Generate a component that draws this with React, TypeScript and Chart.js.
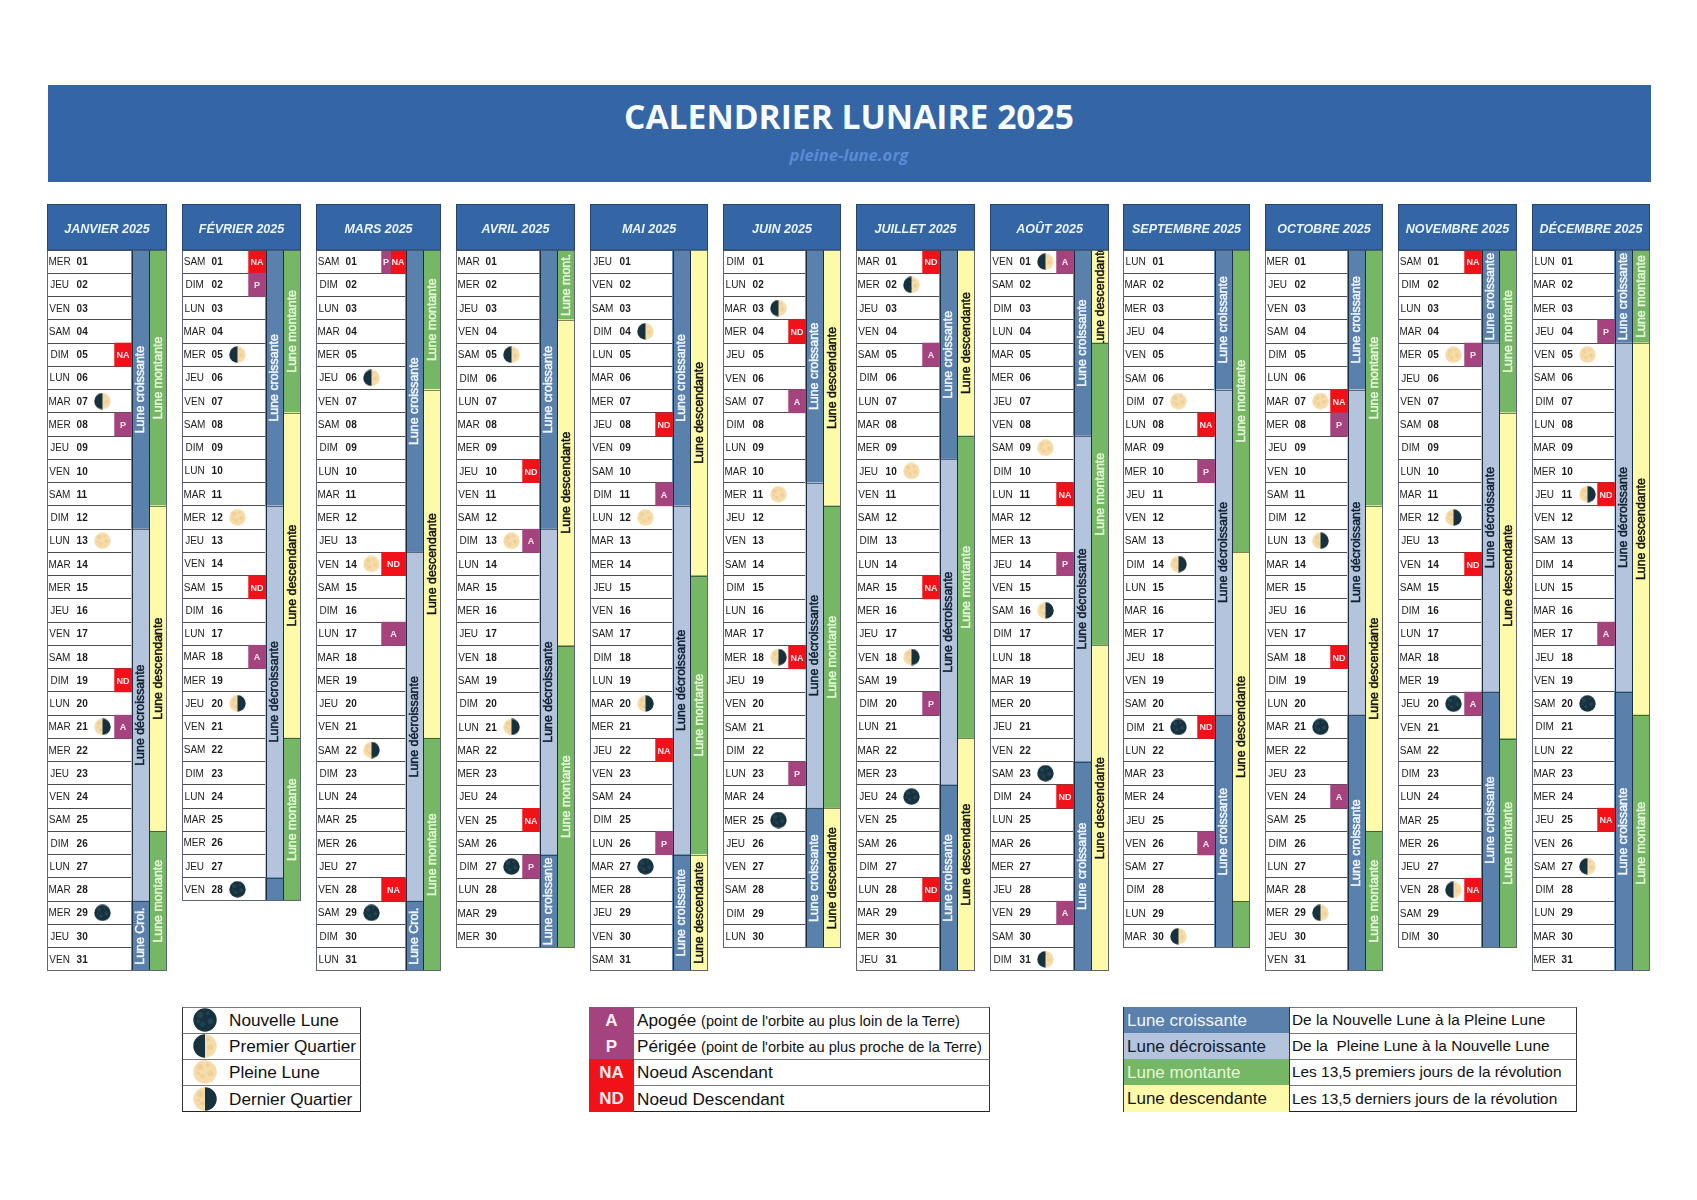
import React, { useEffect, useRef } from "react";
import { Chart, registerables } from "chart.js";

Chart.register(...registerables);

// calendar data
const monthTitles = ["JANVIER 2025", "FÉVRIER 2025", "MARS 2025", "AVRIL 2025", "MAI 2025", "JUIN 2025", "JUILLET 2025", "AOÛT 2025", "SEPTEMBRE 2025", "OCTOBRE 2025", "NOVEMBRE 2025", "DÉCEMBRE 2025"];
const monthLengths = [31, 28, 31, 30, 31, 30, 31, 31, 30, 31, 30, 31];
const weekdays = ["DIM", "LUN", "MAR", "MER", "JEU", "VEN", "SAM"];
const monthFirstWeekday = [3, 6, 6, 2, 4, 0, 2, 5, 1, 3, 6, 1];

// C = croissante, D = décroissante : [phase, nombre de jours]
const phaseRuns: [string, number][][] = [
  [["C", 12], ["D", 16], ["C", 3]],
  [["C", 11], ["D", 16], ["C", 1]],
  [["C", 13], ["D", 15], ["C", 3]],
  [["C", 12], ["D", 14], ["C", 4]],
  [["C", 11], ["D", 15], ["C", 5]],
  [["C", 10], ["D", 14], ["C", 6]],
  [["C", 9], ["D", 14], ["C", 8]],
  [["C", 8], ["D", 14], ["C", 9]],
  [["C", 6], ["D", 14], ["C", 10]],
  [["C", 6], ["D", 14], ["C", 11]],
  [["C", 4], ["D", 15], ["C", 11]],
  [["C", 4], ["D", 15], ["C", 12]],
];

// M = montante, S = descendante
const revolutionRuns: [string, number][][] = [
  [["M", 11], ["S", 14], ["M", 6]],
  [["M", 7], ["S", 14], ["M", 7]],
  [["M", 6], ["S", 15], ["M", 10]],
  [["M", 3], ["S", 14], ["M", 13]],
  [["S", 14], ["M", 12], ["S", 5]],
  [["S", 11], ["M", 13], ["S", 6]],
  [["S", 8], ["M", 13], ["S", 10]],
  [["S", 4], ["M", 13], ["S", 14]],
  [["M", 13], ["S", 15], ["M", 2]],
  [["M", 11], ["S", 14], ["M", 6]],
  [["M", 7], ["S", 14], ["M", 9]],
  [["M", 4], ["S", 16], ["M", 11]],
];

// NL, PQ, PL, DQ
const moonDays: [number, string][][] = [
  [[7, "PQ"], [13, "PL"], [21, "DQ"], [29, "NL"]],
  [[5, "PQ"], [12, "PL"], [20, "DQ"], [28, "NL"]],
  [[6, "PQ"], [14, "PL"], [22, "DQ"], [29, "NL"]],
  [[5, "PQ"], [13, "PL"], [21, "DQ"], [27, "NL"]],
  [[4, "PQ"], [12, "PL"], [20, "DQ"], [27, "NL"]],
  [[3, "PQ"], [11, "PL"], [18, "DQ"], [25, "NL"]],
  [[2, "PQ"], [10, "PL"], [18, "DQ"], [24, "NL"]],
  [[1, "PQ"], [9, "PL"], [16, "DQ"], [23, "NL"], [31, "PQ"]],
  [[7, "PL"], [14, "DQ"], [21, "NL"], [30, "PQ"]],
  [[7, "PL"], [13, "DQ"], [21, "NL"], [29, "PQ"]],
  [[5, "PL"], [12, "DQ"], [20, "NL"], [28, "PQ"]],
  [[5, "PL"], [11, "DQ"], [20, "NL"], [27, "PQ"]],
];

const orbitDays: [number, string][][] = [
  [[5, "NA"], [8, "P"], [19, "ND"], [21, "A"]],
  [[1, "NA"], [2, "P"], [15, "ND"], [18, "A"]],
  [[1, "P"], [1, "NA"], [14, "ND"], [17, "A"], [28, "NA"]],
  [[10, "ND"], [13, "A"], [25, "NA"], [27, "P"]],
  [[8, "ND"], [11, "A"], [22, "NA"], [26, "P"]],
  [[4, "ND"], [7, "A"], [18, "NA"], [23, "P"]],
  [[1, "ND"], [5, "A"], [15, "NA"], [20, "P"], [28, "ND"]],
  [[1, "A"], [11, "NA"], [14, "P"], [24, "ND"], [29, "A"]],
  [[8, "NA"], [10, "P"], [21, "ND"], [26, "A"]],
  [[7, "NA"], [8, "P"], [18, "ND"], [24, "A"]],
  [[1, "NA"], [5, "P"], [14, "ND"], [20, "A"], [28, "NA"]],
  [[4, "P"], [11, "ND"], [17, "A"], [25, "NA"]],
];

const runLabels: Record<string, string> = { C: "Lune croissante", D: "Lune décroissante", M: "Lune montante", S: "Lune descendante" };
const shortRunLabels: Record<string, string> = { C: "Lune Croi.", D: "Lune Décr.", M: "Lune mont.", S: "Lune desc." };

// page layout
const columnLefts = [47, 182, 316, 456, 590, 723, 856, 990, 1123, 1265, 1398, 1532];
const columnRights = [167, 301, 441, 575, 708, 841, 975, 1109, 1250, 1383, 1517, 1650];
const COLUMNS_TOP = 204;
const HEADER_H = 46;
const ROW_H = 23.25;
const BAND_W = 17.7;
const MOON_X = 55.5;

const FONT = '"Liberation Sans", Arial, sans-serif';
const BLUE = "#3465a4";
const runFills: Record<string, string> = { C: "#5a80ac", D: "#b3c4dc", M: "#75b765", S: "#fdfba9" };
const runInks: Record<string, string> = { C: "#f2f6fb", D: "#10202f", M: "#e6f6d8", S: "#141414" };
const orbitFills: Record<string, string> = { A: "#a4437e", P: "#a4437e", NA: "#f01218", ND: "#f01218" };

const moonCache: Record<string, HTMLCanvasElement> = {};

function moonCanvas(kind: string, size: number) {
  const key = kind + size;
  if (moonCache[key]) return moonCache[key];
  const cv = document.createElement("canvas");
  cv.width = size;
  cv.height = size;
  const ctx = cv.getContext("2d")!;
  const r = size / 2;
  const dark = "#17323f";
  const cream = "#f7dca9";
  ctx.save();
  ctx.beginPath();
  ctx.arc(r, r, r - 0.3, 0, Math.PI * 2);
  ctx.clip();
  ctx.fillStyle = kind === "NL" ? dark : cream;
  ctx.fillRect(0, 0, size, size);
  const spots = [[0.3, 0.3, 0.13], [0.62, 0.22, 0.08], [0.72, 0.55, 0.12], [0.4, 0.68, 0.1], [0.22, 0.55, 0.07]];
  spots.forEach(([sx, sy, sr]) => {
    ctx.fillStyle = kind === "NL" ? "#224352" : "#eed09a";
    ctx.beginPath();
    ctx.arc(sx * size, sy * size, sr * size, 0, Math.PI * 2);
    ctx.fill();
  });
  if (kind === "PQ" || kind === "DQ") {
    ctx.fillStyle = dark;
    ctx.fillRect(kind === "PQ" ? 0 : r, 0, r, size);
  }
  ctx.restore();
  moonCache[key] = cv;
  return cv;
}

// rows of a run list -> kind of each day
function expandRuns(runs: [string, number][]) {
  const out: string[] = [];
  runs.forEach(([kind, n]) => {
    for (let i = 0; i < n; i++) out.push(kind);
  });
  return out;
}

function dayLabel(d: number) {
  return String(d).padStart(2, "0");
}

function MonthChart({ month }: { month: number }) {
  const ref = useRef<HTMLCanvasElement>(null);
  const days = monthLengths[month];
  const width = columnRights[month] - columnLefts[month];
  const height = HEADER_H + Math.round(days * ROW_H);

  useEffect(() => {
    if (!ref.current) return;
    const labels = Array.from({ length: days }, (_, i) => dayLabel(i + 1));
    const bandB = width - BAND_W;
    const bandA = bandB - BAND_W;
    const orbitW = month === 2 ? 24 : 17;

    const phases = expandRuns(phaseRuns[month]);
    const revolutions = expandRuns(revolutionRuns[month]);

    // one or two orbit boxes per day, the second lane is only for P + NA on the same day
    const orbits = orbitDays[month];
    const laneA: ([number, number] | null)[] = labels.map(() => null);
    const laneB: ([number, number] | null)[] = labels.map(() => null);
    const fillA: string[] = labels.map(() => "transparent");
    const fillB: string[] = labels.map(() => "transparent");
    const orbitText: { day: string; text: string; x: number }[] = [];
    orbits.forEach(([d, kind]) => {
      const same = orbits.filter((o) => o[0] === d);
      const i = d - 1;
      if (same.length === 2) {
        if (same[0][1] === kind) {
          laneA[i] = [bandA - orbitW, bandA - 15];
          fillA[i] = orbitFills[kind];
          orbitText.push({ day: labels[i], text: kind, x: bandA - orbitW + 4.5 });
        } else {
          laneB[i] = [bandA - 15, bandA];
          fillB[i] = orbitFills[kind];
          orbitText.push({ day: labels[i], text: kind, x: bandA - 7.5 });
        }
      } else {
        laneA[i] = [bandA - orbitW, bandA];
        fillA[i] = orbitFills[kind];
        orbitText.push({ day: labels[i], text: kind, x: bandA - orbitW / 2 });
      }
    });

    const bar = { type: "bar", grouped: false, barPercentage: 1, categoryPercentage: 1, borderWidth: 0 };

    const calendarPlugin = {
      id: "calendarCells",
      beforeDraw(chart: any) {
        const { ctx, chartArea } = chart;
        ctx.save();
        ctx.fillStyle = BLUE;
        ctx.fillRect(0, 0, chart.width, chartArea.top);
        ctx.restore();
      },
      afterDatasetsDraw(chart: any) {
        const { ctx, chartArea } = chart;
        const x = chart.scales.x;
        const y = chart.scales.y;
        const rowH = y.getPixelForValue(1) - y.getPixelForValue(0);
        ctx.save();
        ctx.textBaseline = "middle";

        // weekday + date
        labels.forEach((lab, i) => {
          const py = y.getPixelForValue(i) + 0.8;
          ctx.fillStyle = "#1c1c1c";
          ctx.font = `10px ${FONT}`;
          ctx.textAlign = "center";
          ctx.fillText(weekdays[(monthFirstWeekday[month] + i) % 7], x.getPixelForValue(12.6), py);
          ctx.font = `bold 10px ${FONT}`;
          ctx.textAlign = "left";
          ctx.fillText(lab, x.getPixelForValue(29.6), py);
        });

        // orbit codes
        ctx.textAlign = "center";
        ctx.font = `bold 9px ${FONT}`;
        ctx.fillStyle = "#fbe6ee";
        orbitText.forEach((t) => {
          ctx.fillText(t.text, x.getPixelForValue(t.x), y.getPixelForValue(t.day) + 1);
        });

        // vertical labels of the two bands
        const drawRuns = (runs: [string, number][], from: number) => {
          let start = 0;
          runs.forEach(([kind, n]) => {
            const top = y.getPixelForValue(start) - rowH / 2;
            const h = n * rowH;
            const left = x.getPixelForValue(from);
            const right = x.getPixelForValue(from + BAND_W);
            if (start > 0) {
              ctx.fillStyle = "rgba(20,30,40,0.55)";
              ctx.fillRect(left, Math.round(top), right - left, 1);
            }
            if (n >= 3) {
              const label = n === 3 ? shortRunLabels[kind] : runLabels[kind];
              ctx.save();
              ctx.beginPath();
              ctx.rect(left, top, right - left, h);
              ctx.clip();
              ctx.translate((left + right) / 2, top + h / 2);
              ctx.rotate(-Math.PI / 2);
              ctx.textAlign = "center";
              ctx.font = `12.4px ${FONT}`;
              ctx.fillStyle = runInks[kind];
              ctx.strokeStyle = runInks[kind];
              ctx.lineWidth = 0.5;
              ctx.fillText(label, 0, 0.5);
              ctx.strokeText(label, 0, 0.5);
              ctx.restore();
            }
            start += n;
          });
        };
        drawRuns(phaseRuns[month], bandA);
        drawRuns(revolutionRuns[month], bandB);

        // table frame
        ctx.fillStyle = "#1d2c40";
        ctx.fillRect(Math.round(x.getPixelForValue(bandA)), chartArea.top, 1, chartArea.height);
        ctx.fillRect(Math.round(x.getPixelForValue(bandB)), chartArea.top, 1, chartArea.height);
        ctx.strokeStyle = "#5f6670";
        ctx.lineWidth = 1;
        ctx.strokeRect(0.5, chartArea.top, chart.width - 1, chart.height - chartArea.top - 0.5);
        ctx.strokeStyle = "#25436c";
        ctx.strokeRect(0.5, 0.5, chart.width - 1, chartArea.top - 0.5);
        ctx.restore();
      },
    };

    const chart = new Chart(ref.current, {
      type: "bar",
      data: {
        labels,
        datasets: [
          {
            type: "scatter",
            label: "Lune",
            order: 0,
            data: moonDays[month].map(([d]) => ({ x: MOON_X, y: dayLabel(d) })),
            pointStyle: moonDays[month].map(([, kind]) => moonCanvas(kind, 17)),
            pointRadius: 8,
          },
          { ...bar, label: "Orbite", order: 1, data: laneA, backgroundColor: fillA },
          { ...bar, label: "Orbite 2", order: 1, data: laneB, backgroundColor: fillB },
          {
            ...bar,
            label: "Phase",
            order: 1,
            inflateAmount: 0.5,
            data: phases.map(() => [bandA, bandA + BAND_W]),
            backgroundColor: phases.map((k) => runFills[k]),
          },
          {
            ...bar,
            label: "Révolution",
            order: 1,
            inflateAmount: 0.5,
            data: revolutions.map(() => [bandB, bandB + BAND_W]),
            backgroundColor: revolutions.map((k) => runFills[k]),
          },
        ] as any,
      },
      options: {
        indexAxis: "y",
        animation: false,
        responsive: false,
        events: [],
        layout: { padding: 0, autoPadding: false },
        scales: {
          x: { type: "linear", min: 0, max: width, display: false },
          y: {
            type: "category",
            offset: true,
            ticks: { display: false },
            border: { display: false },
            grid: { offset: true, drawTicks: false, color: "#4d4d4d", lineWidth: 1 },
          },
        },
        plugins: {
          legend: { display: false },
          tooltip: { enabled: false },
          title: {
            display: true,
            text: monthTitles[month],
            color: "#e8f4ff",
            font: { family: FONT, size: 12.5, style: "italic", weight: "bold" },
            padding: { top: 18.5, bottom: 12.5 },
          },
        },
      } as any,
      plugins: [calendarPlugin] as any,
    });
    return () => chart.destroy();
  }, [month, days, width]);

  return (
    <canvas
      ref={ref}
      width={width}
      height={height}
      style={{ position: "absolute", left: columnLefts[month], top: COLUMNS_TOP, width, height }}
    />
  );
}

const abs = (left: number, top: number, width: number, height: number): React.CSSProperties => ({
  position: "absolute",
  left,
  top,
  width,
  height,
  boxSizing: "border-box",
});

const LEGEND_TOP = 1006.5;
const LEGEND_ROW = 26.2;

const moonLegend = [["NL", "Nouvelle Lune"], ["PQ", "Premier Quartier"], ["PL", "Pleine Lune"], ["DQ", "Dernier Quartier"]];
const orbitLegend = [
  ["A", "Apogée", "(point de l'orbite au plus loin de la Terre)"],
  ["P", "Périgée", "(point de l'orbite au plus proche de la Terre)"],
  ["NA", "Noeud Ascendant", ""],
  ["ND", "Noeud Descendant", ""],
];
const runLegend = [
  ["C", "De la Nouvelle Lune à la Pleine Lune"],
  ["D", "De la  Pleine Lune à la Nouvelle Lune"],
  ["M", "Les 13,5 premiers jours de la révolution"],
  ["S", "Les 13,5 derniers jours de la révolution"],
];

const rowBorder = (i: number): React.CSSProperties => ({
  borderTop: "1px solid #777",
  borderBottom: i === 3 ? "1px solid #222" : undefined,
});

function Legends() {
  const text: React.CSSProperties = { fontFamily: FONT, color: "#111", whiteSpace: "pre", lineHeight: `${LEGEND_ROW}px` };
  return (
    <>
      {moonLegend.map(([kind, name], i) => (
        <div key={kind} style={{ ...abs(182, LEGEND_TOP + i * LEGEND_ROW, 179, LEGEND_ROW + 1), ...rowBorder(i), borderLeft: "1px solid #333", borderRight: "1px solid #333" }}>
          <img src={moonCanvas(kind, 24).toDataURL()} style={{ position: "absolute", left: 10, top: 0.5 }} />
          <span style={{ ...text, position: "absolute", left: 46, top: -0.5, fontSize: 17.2 }}>{name}</span>
        </div>
      ))}
      {orbitLegend.map(([kind, name, note], i) => (
        <div key={kind} style={{ ...abs(589, LEGEND_TOP + i * LEGEND_ROW, 401, LEGEND_ROW + 1), ...rowBorder(i), borderRight: "1px solid #333" }}>
          <div style={{ ...abs(0, -1, 45, LEGEND_ROW + 1), background: orbitFills[kind], color: "#fbeef2", fontFamily: FONT, fontWeight: "bold", fontSize: 17, textAlign: "center", lineHeight: `${LEGEND_ROW + 2}px` }}>{kind}</div>
          <span style={{ ...text, position: "absolute", left: 48, top: -0.5, fontSize: 17.2 }}>
            {name} <span style={{ fontSize: 14.6 }}>{note}</span>
          </span>
        </div>
      ))}
      {runLegend.map(([kind, desc], i) => (
        <div key={kind} style={{ ...abs(1123, LEGEND_TOP + i * LEGEND_ROW, 454, LEGEND_ROW + 1), ...rowBorder(i), borderRight: "1px solid #333" }}>
          <div style={{ ...abs(0, -1, 167, LEGEND_ROW + 1), background: runFills[kind], color: runInks[kind], fontFamily: FONT, fontSize: 17, paddingLeft: 3, lineHeight: `${LEGEND_ROW + 2}px`, borderLeft: "1px solid #333", borderRight: "1px solid #333" }}>{runLabels[kind]}</div>
          <span style={{ ...text, position: "absolute", left: 169, top: -0.5, fontSize: 15.4 }}>{desc}</span>
        </div>
      ))}
    </>
  );
}

export default function App() {
  return (
    <div style={{ position: "absolute", left: 0, top: 0, width: 1697, height: 1200, background: "#fff", overflow: "hidden" }}>
      <div style={{ ...abs(47.5, 85, 1603, 97), background: BLUE }}>
        <div style={{ position: "absolute", left: 0, right: 0, top: 8, textAlign: "center", fontFamily: '"Open Sans"', fontWeight: 700, fontSize: 33.6, lineHeight: "46px", color: "#f6fbff" }}>
          CALENDRIER LUNAIRE 2025
        </div>
        <div style={{ position: "absolute", left: 0, right: 0, top: 59, textAlign: "center", fontFamily: '"Open Sans"', fontStyle: "italic", fontWeight: 700, fontSize: 16.7, lineHeight: "22px", color: "#5a8bd6" }}>
          pleine-lune.org
        </div>
      </div>
      {monthTitles.map((_, i) => (
        <MonthChart key={i} month={i} />
      ))}
      <Legends />
    </div>
  );
}
